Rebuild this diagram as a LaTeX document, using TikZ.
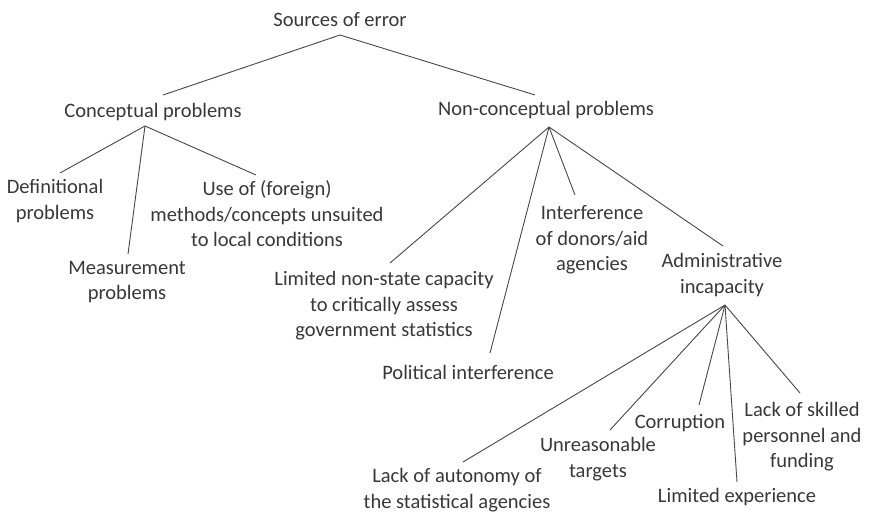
\documentclass[tikz,border=0pt]{standalone}
\usepackage{fontspec}
\setmainfont{Carlito}
\begin{document}
\begin{tikzpicture}[x=1pt,y=-1pt,
  lbl/.style={text=black!78, align=center, inner sep=0pt, font=\fontsize{20.5}{25.5}\selectfont},
  conn/.style={draw=black!72, line width=0.9pt}]
\useasboundingbox (0,0) rectangle (873,514);
% nodes
\node[lbl] (src) at (340,20) {Sources of error};
\node[lbl] (conc) at (153,112) {Conceptual problems};
\node[lbl] (nonc) at (546,110) {Non-conceptual problems};
\node[lbl] (defn) at (55,201) {Definitional\\problems};
\node[lbl] (meas) at (127,282) {Measurement\\problems};
\node[lbl] (use) at (267,214) {Use of (foreign)\\methods/concepts unsuited\\to local conditions};
\node[lbl] (lim) at (384,306) {Limited non-state capacity\\to critically assess\\government statistics};
\node[lbl] (pol) at (468,372) {Political interference};
\node[lbl] (intf) at (592,240) {Interference\\of donors/aid\\agencies};
\node[lbl] (adm) at (722,275) {Administrative\\incapacity};
\node[lbl] (auto) at (457,490) {Lack of autonomy of\\the statistical agencies};
\node[lbl] (unr) at (598,459) {Unreasonable\\targets};
\node[lbl] (corr) at (680,423) {Corruption};
\node[lbl] (lexp) at (737,497) {Limited experience};
\node[lbl] (skill) at (802,437) {Lack of skilled\\personnel and\\funding};
% connector end points
\coordinate (srcB) at (340,35);
\coordinate (concT) at (163,95);
\coordinate (noncT) at (535,95);
\coordinate (concB) at (145,126);
\coordinate (defnT) at (60,173);
\coordinate (measT) at (128,254);
\coordinate (useT) at (256,175);
\coordinate (noncB) at (549,127);
\coordinate (limT) at (390,263);
\coordinate (polT) at (490,353);
\coordinate (intfT) at (575,195);
\coordinate (admT) at (723,246);
\coordinate (admB) at (725,305);
\coordinate (autoT) at (463,462);
\coordinate (unrT) at (610,430);
\coordinate (corrT) at (699,405);
\coordinate (lexpT) at (737,482);
\coordinate (skillT) at (800,393);
% connectors
\draw[conn] (concT) -- (srcB) -- (noncT);
\draw[conn] (concB) -- (defnT);
\draw[conn] (concB) -- (measT);
\draw[conn] (concB) -- (useT);
\draw[conn] (noncB) -- (limT);
\draw[conn] (noncB) -- (polT);
\draw[conn] (noncB) -- (intfT);
\draw[conn] (noncB) -- (admT);
\draw[conn] (admB) -- (autoT);
\draw[conn] (admB) -- (unrT);
\draw[conn] (admB) -- (corrT);
\draw[conn] (admB) -- (lexpT);
\draw[conn] (admB) -- (skillT);
\end{tikzpicture}
\end{document}
